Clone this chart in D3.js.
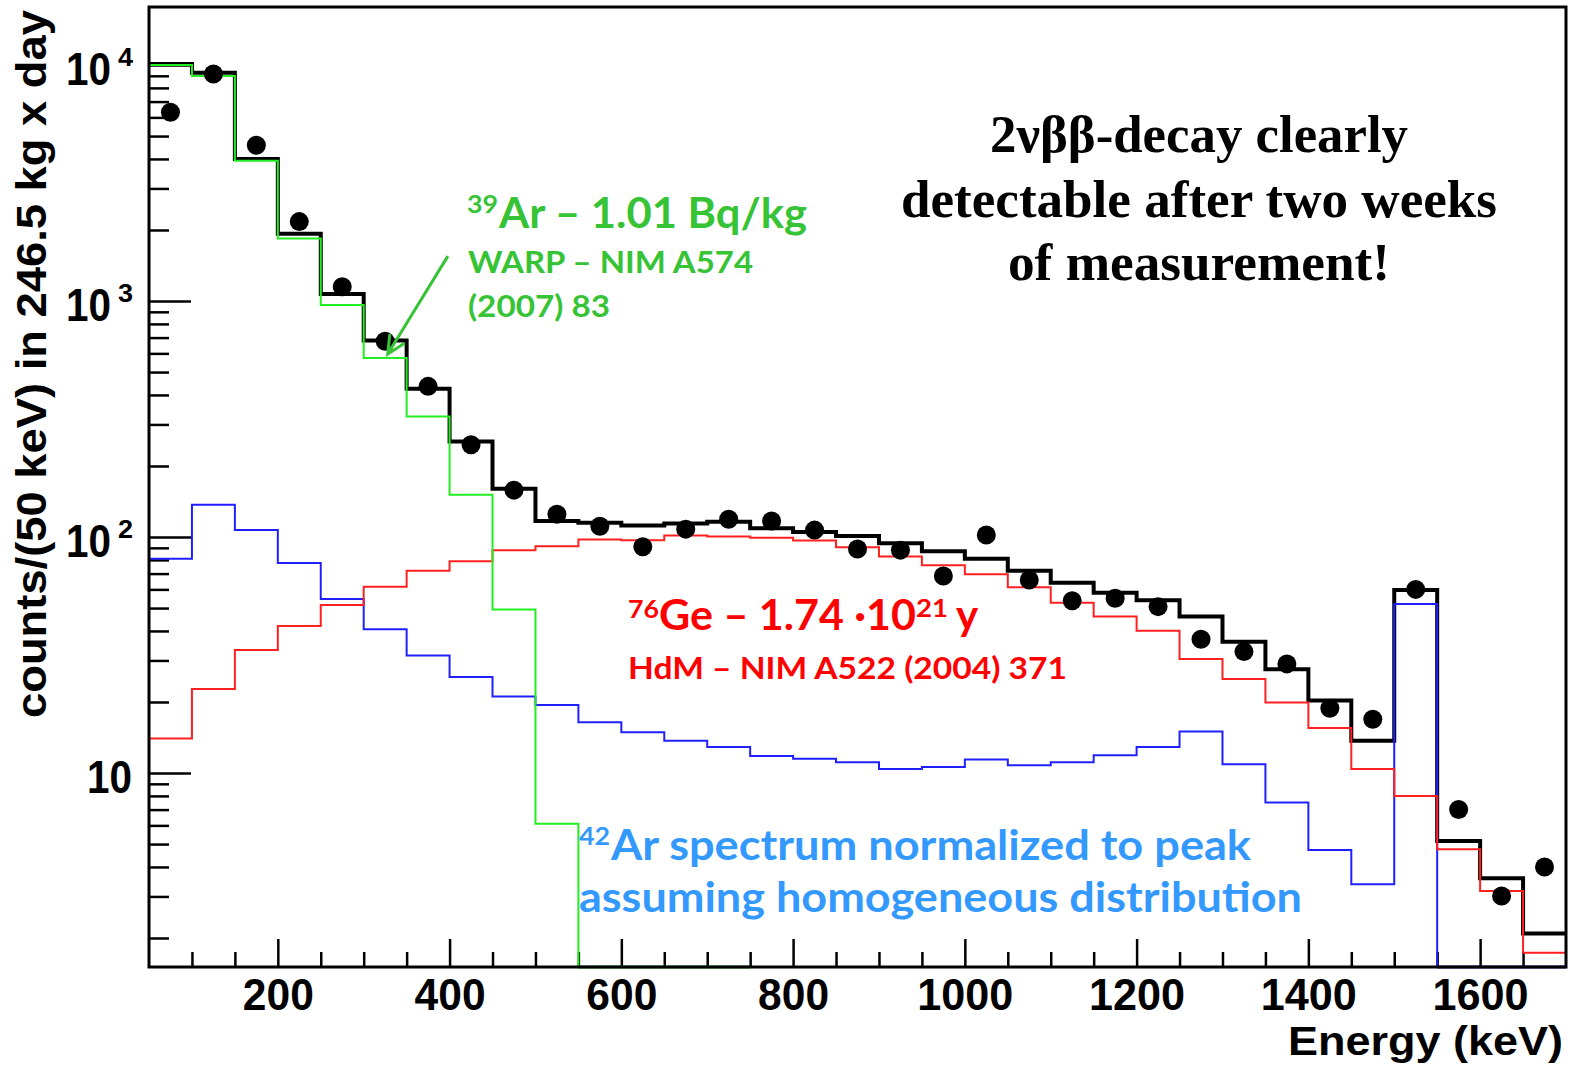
<!DOCTYPE html>
<html>
<head>
<meta charset="utf-8">
<script src="https://cdn.jsdelivr.net/npm/d3@7"></script>
<style>
  html, body { margin: 0; padding: 0; background: #fff; }
  svg { display: block; }
</style>
</head>
<body>
<svg id="chart" width="1572" height="1067"></svg>
<script>
// ---------------- DATA ----------------
// Histogram bins: low edges (keV), width 50 keV
const binLow = [50,100,150,200,250,300,350,400,450,500,550,600,650,700,750,800,850,900,950,1000,
                1050,1100,1150,1200,1250,1300,1350,1400,1450,1500,1550,1600,1650];
const binWidth = 50;
// Total (black) histogram
const totalModel = [10100,9280,4000,1930,1070,680,425,254,160,117,115,112,114,116,109,105,101,94,87,81,
                    72,64,58,54,46,36,27.5,20.3,13.7,59.6,5.15,3.58,2.09];
// 76Ge 2vbb (red)
const ge76 = [14.0,22.7,33.2,42,51.5,61.6,72,79,88,91.5,97.7,97,101.6,100.6,99.3,96.7,90.5,82.7,76,69.5,
              61.2,52.7,46,40.1,30.4,25,19.9,15.5,10.4,8.0,4.75,3.16,1.73];
// 42Ar (blue)
const ar42 = [81,137,107,77.6,54.6,40.7,31.5,25.5,21.1,19.4,16.4,14.9,13.7,12.9,11.8,11.5,11.1,10.4,10.6,11.4,
              10.8,11.1,11.9,12.9,15.0,10.9,7.5,4.72,3.38,52,0,0,0];
// 39Ar (green) — defined only from 50 to 750 keV
const ar39 = [10000,8990,3930,1840,962,573,324,151,49.3,6.1,0,0,0,0];
// Measured / simulated data points at bin centres
const pointE = [75,125,175,225,275,325,375,425,475,525,575,625,675,725,775,825,875,925,975,1025,
                1075,1125,1175,1225,1275,1325,1375,1425,1475,1525,1575,1625,1675];
const pointCounts = [6310,9160,4570,2170,1150,675,435,246,158,125,111,91,108,119,117,107,89,88,68.4,102,
                     65.8,53.7,55,50.7,36.9,32.7,29,18.8,16.9,60,7.0,3.01,4.0];
// Axis ticks
const xTickValues = [200,400,600,800,1000,1200,1400,1600];
const xTickLabels = ["200","400","600","800","1000","1200","1400","1600"];
const xMinorValues = [100,150,250,300,350,450,500,550,650,700,750,850,900,950,1050,1100,1150,1250,1300,1350,1450,1500,1550,1650];
const yMajorValues = [10,100,1000,10000];
const yMajorExponents = ["", "2", "3", "4"];
const yMinorValues = [2,3,4,5,6,7,8,9,20,30,40,50,60,70,80,90,200,300,400,500,600,700,800,900,
                      2000,3000,4000,5000,6000,7000,8000,9000];
const xTitle = "Energy (keV)";
const yTitle = "counts/(50 keV) in 246.5 kg x day";

// ---------------- SETUP ----------------
const svg = d3.select("#chart");
const L = 149, R = 1566, T = 7, B = 967;
const x = d3.scaleLinear().domain([50, 1700]).range([L, R]);
const y = d3.scaleLog().domain([1.507, 17614]).range([B, T]);
const yMin = y.domain()[0];
const yv = v => (v <= yMin ? y(yMin) : y(v));

const sansBold = "'Liberation Sans', Arial, Helvetica, sans-serif";
const annFont = "Lato, 'Open Sans', 'Noto Sans', sans-serif";

// ---------------- AXES (ticks) ----------------
function styleAxis(g) {
  g.select(".domain").remove();
  g.selectAll(".tick line").attr("stroke", "#000").attr("stroke-width", 2.5);
}
svg.append("g").attr("transform", `translate(0,${B})`)
  .call(d3.axisBottom(x).tickValues(xMinorValues).tickSize(-15).tickFormat(""))
  .call(styleAxis);
const xMaj = svg.append("g").attr("transform", `translate(0,${B})`)
  .call(d3.axisBottom(x).tickValues(xTickValues).tickSize(-28).tickPadding(11)
        .tickFormat((d, i) => xTickLabels[i]))
  .call(styleAxis);
xMaj.selectAll(".tick text")
  .attr("font-family", sansBold).attr("font-weight", "bold").attr("font-size", 45)
  .attr("fill", "#000")
  .attr("textLength", d => (String(d).length > 3 ? 96 : 71))
  .attr("lengthAdjust", "spacingAndGlyphs");

svg.append("g").attr("transform", `translate(${L},0)`)
  .call(d3.axisLeft(y).tickValues(yMinorValues).tickSize(-20).tickFormat(""))
  .call(styleAxis);
svg.append("g").attr("transform", `translate(${L},0)`)
  .call(d3.axisLeft(y).tickValues(yMajorValues).tickSize(-42).tickFormat(""))
  .call(styleAxis);

// y tick labels (10, 10^2, 10^3, 10^4)
const yLab = svg.append("g").attr("font-family", sansBold).attr("font-weight", "bold").attr("fill", "#000");
yMajorValues.forEach((v, i) => {
  const ty = y(v);
  const exp = yMajorExponents[i];
  if (exp === "") {
    yLab.append("text").attr("x", 87).attr("y", ty + 20).attr("font-size", 46)
      .attr("textLength", 45).attr("lengthAdjust", "spacingAndGlyphs").text("10");
  } else {
    yLab.append("text").attr("x", 66).attr("y", ty + 20).attr("font-size", 46)
      .attr("textLength", 45).attr("lengthAdjust", "spacingAndGlyphs").text("10");
    yLab.append("text").attr("x", 118).attr("y", ty + 1).attr("font-size", 25)
      .attr("textLength", 15).attr("lengthAdjust", "spacingAndGlyphs").text(exp);
  }
});

// axis titles
svg.append("text").attr("y", 1055)
  .attr("font-family", sansBold).attr("font-weight", "bold").attr("font-size", 40)
  .attr("x", R - 3 - 275)
  .attr("textLength", 275).attr("lengthAdjust", "spacingAndGlyphs")
  .text(xTitle);
svg.append("text")
  .attr("transform", `translate(46, ${364 + 354}) rotate(-90)`)
  .attr("font-family", sansBold).attr("font-weight", "bold").attr("font-size", 42)
  .attr("textLength", 708).attr("lengthAdjust", "spacingAndGlyphs")
  .text(yTitle);

// ---------------- HISTOGRAMS ----------------
const plot = svg.append("g");
svg.append("defs").append("clipPath").attr("id", "clip")
  .append("rect").attr("x", L).attr("y", T - 2).attr("width", R - L).attr("height", B - T + 4);
plot.attr("clip-path", "url(#clip)");

function stepPoints(vals) {
  const pts = vals.map((v, i) => [binLow[i], v]);
  pts.push([binLow[vals.length - 1] + binWidth, vals[vals.length - 1]]);
  return pts;
}
const stepLine = d3.line().x(d => x(d[0])).y(d => yv(d[1])).curve(d3.curveStepAfter);

function drawHist(vals, color, width) {
  plot.append("path").attr("d", stepLine(stepPoints(vals)))
    .attr("fill", "none").attr("stroke", color).attr("stroke-width", width)
    .attr("stroke-linejoin", "miter").attr("stroke-linecap", "square");
}
drawHist(totalModel, "#000000", 4);
drawHist(ar42, "#2020ff", 2);
drawHist(ge76, "#ff2020", 2);
drawHist(ar39, "#22ee22", 2);

// ---------------- FRAME ----------------
svg.append("rect").attr("x", L).attr("y", T).attr("width", R - L).attr("height", B - T)
  .attr("fill", "none").attr("stroke", "#000").attr("stroke-width", 3);
// redraw zero-level coloured segments on the bottom axis
plot.append("path")
  .attr("d", stepLine(stepPoints(ar39).filter(d => d[0] >= 550)))
  .attr("fill", "none").attr("stroke", "#119911").attr("stroke-width", 3);
plot.append("path")
  .attr("d", stepLine(stepPoints(ar42).filter(d => d[0] >= 1550)))
  .attr("fill", "none").attr("stroke", "#1a1aa0").attr("stroke-width", 3);

// ---------------- DATA POINTS ----------------
svg.append("g").selectAll("circle")
  .data(pointE.map((e, i) => [e, pointCounts[i]]))
  .join("circle")
  .attr("cx", d => x(d[0])).attr("cy", d => y(d[1])).attr("r", 9.5)
  .attr("fill", "#000");

// ---------------- ANNOTATIONS ----------------
function txt(s, xx, yy, size, color, len, family, weight) {
  const t = svg.append("text").attr("x", xx).attr("y", yy)
    .attr("font-family", family || annFont).attr("font-weight", weight || "bold")
    .attr("font-size", size).attr("fill", color).text(s);
  if (len) t.attr("textLength", len).attr("lengthAdjust", "spacingAndGlyphs");
  return t;
}
const green = "#36c336", red = "#ff0000", blue = "#3399ff";
// 39Ar
txt("39", 467, 213, 24, green, 31);
txt("Ar \u2013 1.01 Bq/kg", 499, 228, 42, green, 308);
txt("WARP \u2013 NIM A574", 468, 273, 30, green, 285);
txt("(2007) 83", 468, 317, 30, green, 142);
// arrow (data coordinates)
const arrowFrom = [398, 1550], arrowTo = [328, 596];
const ax0 = x(arrowFrom[0]), ay0 = y(arrowFrom[1]), ax1 = x(arrowTo[0]), ay1 = y(arrowTo[1]);
const ang = Math.atan2(ay1 - ay0, ax1 - ax0);
const hl = 20, ha = Math.PI / 7;
svg.append("path")
  .attr("d", `M${ax0},${ay0}L${ax1},${ay1}` +
    `M${ax1 - hl * Math.cos(ang - ha)},${ay1 - hl * Math.sin(ang - ha)}L${ax1},${ay1}` +
    `L${ax1 - hl * Math.cos(ang + ha)},${ay1 - hl * Math.sin(ang + ha)}`)
  .attr("fill", "none").attr("stroke", green).attr("stroke-width", 3);

// 76Ge
txt("76", 628, 618, 24, red, 31);
txt("Ge \u2013 1.74 \u00b710", 659, 630, 42, red, 257);
txt("21", 916, 617, 24, red, 32);
txt("y", 956, 630, 42, red);
txt("HdM \u2013 NIM A522 (2004) 371", 628, 679, 31, red, 439);

// 42Ar
txt("42", 579, 845, 24, blue, 31);
txt("Ar spectrum normalized to peak", 611, 860, 42, blue, 640);
txt("assuming homogeneous distribution", 579, 912, 42, blue, 723);

// Black statement
const serif = "'Liberation Serif', 'Times New Roman', serif";
txt("2\u03bd\u03b2\u03b2-decay clearly", 990, 152, 52, "#000", 418, serif);
txt("detectable after two weeks", 901, 217, 52, "#000", 596, serif);
txt("of measurement!", 1008, 280, 52, "#000", 382, serif);
</script>
</body>
</html>
